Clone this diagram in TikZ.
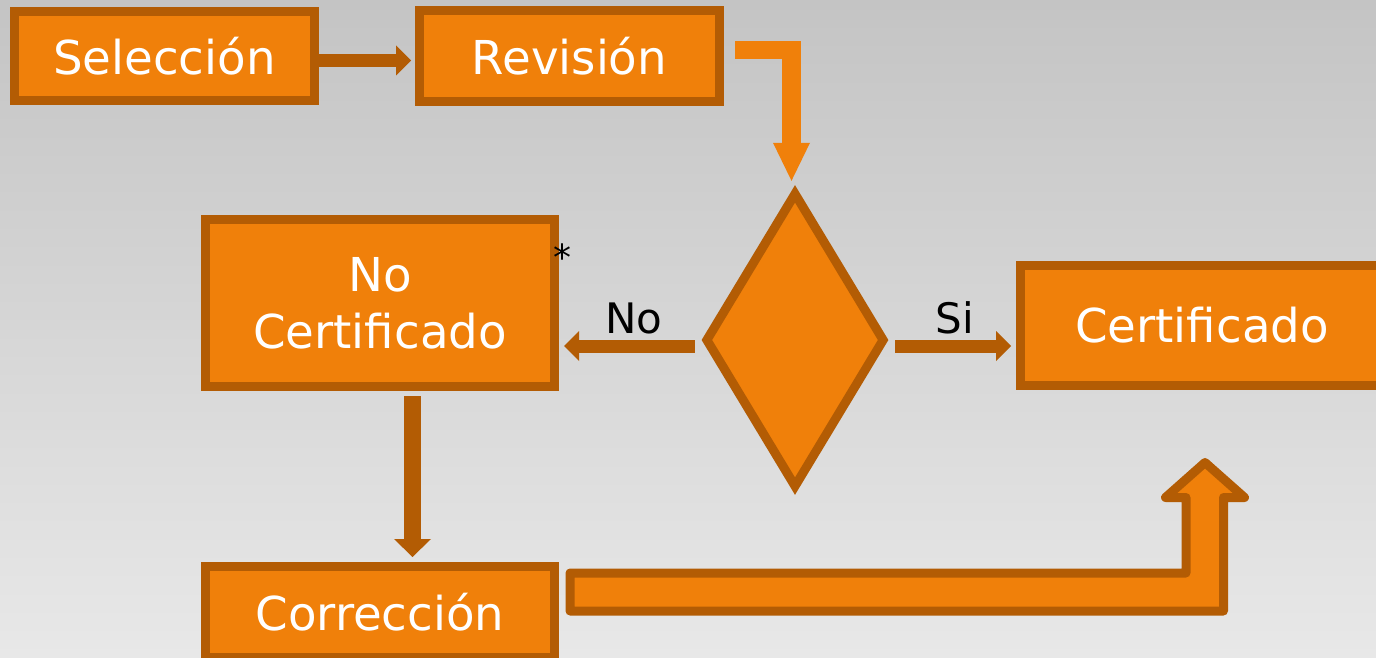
\documentclass[tikz,border=0pt]{standalone}
\usepackage{fontspec}
\setmainfont{DejaVu Sans}
\usetikzlibrary{shapes.geometric,arrows.meta,calc}
\definecolor{org}{RGB}{240,128,10}
\definecolor{dorg}{RGB}{179,92,4}
\definecolor{bgtop}{RGB}{196,196,196}
\definecolor{bgbot}{RGB}{232,232,232}
\tikzset{
  box/.style={draw=dorg, fill=org, line width=9pt, inner sep=0pt, text=white,
    font=\fontsize{46.7}{57}\selectfont, align=center},
  darrow/.style={draw=dorg, line width=#1},
  lbl/.style={font=\fontsize{42}{50}\selectfont, text=black, anchor=base, inner sep=0pt},
  bigarrow/.style={draw=dorg, fill=org, line width=9pt, line join=round},
}
\begin{document}
\begin{tikzpicture}[x=1pt,y=-1pt]
\useasboundingbox (0,0) rectangle (1376,658);
\shade[top color=bgtop, bottom color=bgbot] (0,0) rectangle (1376,658);
\clip (0,0) rectangle (1376,658);

\node[box, minimum width=300pt, minimum height=89pt] (sel) at (164.5,56) {Selección};
\node[box, minimum width=300pt, minimum height=91pt] (rev) at (569.5,56) {Revisión};
\node[diamond, draw=dorg, fill=org, line width=9pt, inner sep=0pt,
      minimum width=180pt, minimum height=296pt] (dia) at (795,340) {};
\node[box, minimum width=349pt, minimum height=167pt] (nocert) at (380,303) {No\\Certificado};
\node[box, minimum width=363pt, minimum height=120pt] (cert) at (1202,325.5) {Certificado};
\node[box, minimum width=349pt, minimum height=91pt] (corr) at (380,612) {Corrección};

\node[font=\fontsize{36}{40}\selectfont, text=black, anchor=base, inner sep=0pt] (ast) at (562,270) {*};
\node[lbl] (lno) at (634,333) {No};
\node[lbl] (lsi) at (954.5,333) {Si};

% Selección -> Revisión
\draw[darrow=13pt, -{Triangle[length=15pt,width=30pt,line width=0pt]}, shorten >=4pt]
  ($(sel.east)+(0,4.5)$) -- ($(rev.west)+(0,4.5)$);
% Revisión -> diamond (bright orange bent arrow)
\draw[draw=org, line width=18.5pt, line join=miter,
      -{Triangle[length=38pt,width=37pt,line width=0pt]}, shorten >=6.7pt]
  ($(rev.east)+(11,-6)$) -| ($(dia.north)+(-3.5,0)$);
% diamond -> No Certificado
\coordinate (dw) at ($(dia.west)+(0,6)$);
\draw[darrow=13pt, -{Triangle[length=15pt,width=30pt,line width=0pt]},
      shorten <=5.7pt, shorten >=5pt]
  (dw) -- (dw -| nocert.east);
% diamond -> Certificado
\coordinate (de) at ($(dia.east)+(0,6)$);
\draw[darrow=13pt, -{Triangle[length=15pt,width=30pt,line width=0pt]},
      shorten <=5.7pt, shorten >=5pt]
  (de) -- (de -| cert.west);
% No Certificado -> Corrección
\draw[darrow=17pt, -{Triangle[length=18pt,width=37pt,line width=0pt]},
      shorten <=5pt, shorten >=5pt]
  ($(nocert.south)+(32.5,0)$) -- ($(corr.north)+(32.5,0)$);
% Corrección -> Certificado (block arrow)
\coordinate (ba) at ($(corr.east)+(11,0)$);
\coordinate (bt) at ($(cert.south)+(3,72.5)$);
\filldraw[bigarrow] ($(ba)+(0,-39)$) -| ($(bt)+(-19,35)$) -- ++(-20.5,0) -- (bt)
  -- ($(bt)+(39.5,35)$) -- ++(-21,0) |- ($(ba)+(0,-1)$) -- cycle;
\end{tikzpicture}
\end{document}
